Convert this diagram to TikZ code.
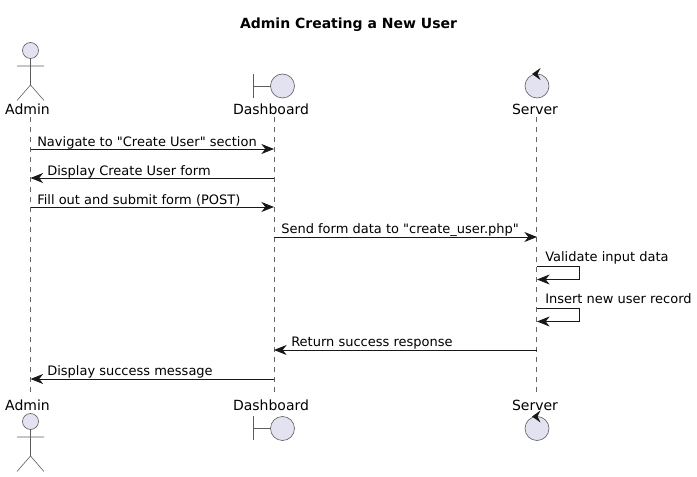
\documentclass[tikz,border=0pt]{standalone}
\usepackage{fontspec}
\setmainfont[Ligatures=TeXOff]{DejaVu Sans}
\usetikzlibrary{arrows.meta}
\definecolor{partfill}{HTML}{E2E2F0}
\definecolor{ink}{HTML}{181818}
\definecolor{lifegray}{HTML}{666666}
\tikzset{
  x=0.75pt,y=-0.75pt,
  msg/.style={draw=ink,line width=0.6pt,-{Stealth[length=9.5pt,width=7.5pt,inset=3pt]}},
  life/.style={draw=lifegray,line width=0.4pt,dash pattern=on 3.75pt off 3.75pt},
  partline/.style={draw=ink!70,line width=0.45pt},
  partcirc/.style={draw=ink!70,line width=0.45pt,fill=partfill},
  msgtext/.style={anchor=base west,inner sep=0pt,font=\fontsize{9.75}{12}\selectfont,text=black},
  parttext/.style={anchor=base,inner sep=0pt,font=\fontsize{10.5}{13}\selectfont,text=black},
  titletext/.style={anchor=base,inner sep=0pt,font=\fontsize{10.5}{13}\selectfont\bfseries,text=black}
}
\newcommand{\actorfig}[2]{% x, head-centre y
  \draw[partcirc] (#1,#2) circle[radius=8];
  \draw[partline] (#1,#2+8) -- (#1,#2+34.5)
    (#1-13.5,#2+15.5) -- (#1+13.5,#2+15.5)
    (#1-13.5,#2+50) -- (#1,#2+34.5) -- (#1+13.5,#2+50);
}
\newcommand{\boundaryfig}[2]{% circle x, y
  \draw[partline] (#1-29,#2-12) -- (#1-29,#2+12) (#1-29,#2) -- (#1-12,#2);
  \draw[partcirc] (#1,#2) circle[radius=12];
}
\newcommand{\controlfig}[2]{% circle x, y
  \draw[partcirc] (#1,#2) circle[radius=12];
  \fill[ink] (#1-5,#2-12) -- (#1+3.5,#2-18) -- (#1+0.5,#2-12) -- (#1+3.5,#2-6) -- cycle;
}
\begin{document}
\begin{tikzpicture}
\useasboundingbox (0,0) rectangle (697,477);
\node[titletext] (title) at (348.5,29) {Admin Creating a New User};
% lifeline ends
\coordinate (at) at (30.5,117); \coordinate (ab) at (30.5,392);
\coordinate (dt) at (274.5,117); \coordinate (db) at (274.5,392);
\coordinate (st) at (536.5,117); \coordinate (sb) at (536.5,392);
\draw[life] (at) -- (ab);
\draw[life] (dt) -- (db);
\draw[life] (st) -- (sb);
% participants
\actorfig{30.5}{50.5}
\boundaryfig{282.5}{86}
\controlfig{537}{86}
\node[parttext] (adminT) at (27.5,115) {Admin};
\node[parttext] (dashT) at (271,115) {Dashboard};
\node[parttext] (servT) at (535,115) {Server};
\node[parttext] (adminB) at (27.5,411) {Admin};
\node[parttext] (dashB) at (271,411) {Dashboard};
\node[parttext] (servB) at (535,411) {Server};
\actorfig{30.5}{421.5}
\boundaryfig{282.5}{428.5}
\controlfig{537}{428.5}
% message anchors
\foreach \n/\y in {1/149,2/178,3/207,4/237,5/266,6/279.5,7/308.5,8/321.5,9/350,10/379}{
  \coordinate (a\n) at (30.5,\y);
  \coordinate (d\n) at (274,\y);
  \coordinate (s\n) at (537,\y);
  \coordinate (e\n) at (579.5,\y);
}
\draw[msg] (a1) -- (d1);
\draw[msg] (d2) -- (a2);
\draw[msg] (a3) -- (d3);
\draw[msg] (d4) -- (s4);
\draw[msg] (s5) -- (e5) -- (e6) -- (s6);
\draw[msg] (s7) -- (e7) -- (e8) -- (s8);
\draw[msg] (s9) -- (d9);
\draw[msg] (d10) -- (a10);
% labels
\node[msgtext] (m1) at (37,146.5) {Navigate to "Create User" section};
\node[msgtext] (m2) at (47,175.5) {Display Create User form};
\node[msgtext] (m3) at (37,204.5) {Fill out and submit form (POST)};
\node[msgtext] (m4) at (281,234) {Send form data to "create\_user.php"};
\node[msgtext] (m5) at (545,262) {Validate input data};
\node[msgtext] (m6) at (545,304) {Insert new user record};
\node[msgtext] (m7) at (291,347) {Return success response};
\node[msgtext] (m8) at (47,376) {Display success message};
\end{tikzpicture}
\end{document}
